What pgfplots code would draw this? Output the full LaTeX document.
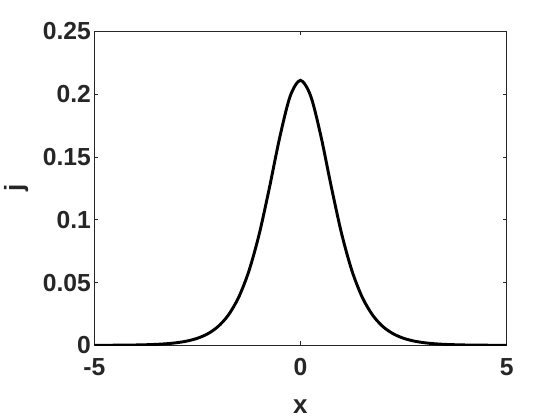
\documentclass[border=0pt]{standalone}
\usepackage{fontspec}
\setmainfont{Liberation Sans}
\usepackage{pgfplots}
\pgfplotsset{compat=1.18}
\definecolor{axgray}{rgb}{0.15,0.15,0.15}
\begin{document}
\begin{tikzpicture}
\path[use as bounding box] (-70.7pt,-56pt) rectangle (349.3pt,259pt);
\begin{axis}[
  at={(0,0)}, anchor=south west,
  scale only axis,
  width=309.3pt, height=235.5pt,
  xmin=-5, xmax=5, ymin=0, ymax=0.25,
  xtick={-5,0,5}, xticklabels={-5,0,5},
  ytick={0,0.05,0.1,0.15,0.2,0.25},
  yticklabels={0,0.05,0.1,0.15,0.2,0.25},
  tick align=inside,
  major tick length=3pt,
  axis line style={axgray, line width=0.7pt},
  every tick/.style={axgray, line width=0.6pt},
  tick label style={font=\fontsize{18.5}{20}\selectfont\bfseries, text=axgray},
  yticklabel style={xshift=1pt},
  xticklabel style={yshift=-6pt},
  label style={font=\fontsize{19.5}{22}\selectfont\bfseries, text=axgray},
  xlabel={x}, ylabel={j},
  xlabel style={yshift=-11pt},
  ylabel style={yshift=4pt},
]
\addplot[black, line width=2.2pt, smooth] coordinates {
  (-5,0.00004) (-4.75,0.00006) (-4.5,0.00010) (-4.25,0.00017)
  (-4,0.00028) (-3.75,0.00047) (-3.5,0.00077) (-3.25,0.00126)
  (-3,0.00208) (-2.75,0.00342) (-2.5,0.00561) (-2.25,0.00917)
  (-2,0.01491) (-1.75,0.02401) (-1.5,0.03813) (-1.25,0.05917)
  (-1,0.08861) (-0.75,0.12588) (-0.5,0.16594) (-0.25,0.19834)
  (0,0.2110)
  (0.25,0.19834) (0.5,0.16594) (0.75,0.12588) (1,0.08861)
  (1.25,0.05917) (1.5,0.03813) (1.75,0.02401) (2,0.01491)
  (2.25,0.00917) (2.5,0.00561) (2.75,0.00342) (3,0.00208)
  (3.25,0.00126) (3.5,0.00077) (3.75,0.00047) (4,0.00028)
  (4.25,0.00017) (4.5,0.00010) (4.75,0.00006) (5,0.00004)
};
\end{axis}
\end{tikzpicture}
\end{document}
